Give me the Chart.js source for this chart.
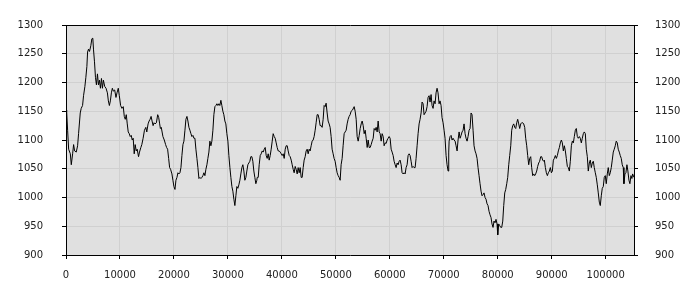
<!DOCTYPE html>
<html>
<head>
<meta charset="utf-8">
<script src="https://cdn.jsdelivr.net/npm/chart.js@4.4.1/dist/chart.umd.min.js"></script>
<style>
  html, body { margin: 0; padding: 0; background: #fff; }
  canvas { display: block; }
</style>
</head>
<body>
<canvas id="chart" width="700" height="300"></canvas>
<script>
// tick values for both axes
var xTicks = [0, 10000, 20000, 30000, 40000, 50000, 60000, 70000, 80000, 90000, 100000];
var yTicks = [900, 950, 1000, 1050, 1100, 1150, 1200, 1250, 1300];

// series, [x, value], in pieces
var seg1 = [[0,1152],[120,1150],[300,1117],[490,1084],[800,1076],[980,1057],[1230,1076],[1410,1092],[1600,1081],[1900,1079],
  [2150,1090],[2330,1111],[2640,1147],[2820,1155],[3070,1160],[3250,1177],[3500,1193],[3680,1209],[3870,1228],[4000,1253],
  [4170,1258],[4360,1254],[4600,1264],[4790,1276],[4970,1277],[5090,1258],[5280,1236],[5460,1209],[5640,1196],[5830,1215],
  [6010,1196],[6200,1204],[6380,1190],[6570,1207],[6750,1190],[6930,1204],[7180,1193],[7420,1190],[7670,1182],[7850,1168],
  [8040,1160],[8220,1168],[8410,1182],[8590,1190],[8770,1185],[9020,1187],[9260,1174],[9450,1182],[9690,1190],[9880,1177],
  [10120,1160],[10370,1155],[10610,1158],[10800,1141],[10980,1136],[11170,1144],[11350,1128],[11530,1114],[11720,1111],[11900,1106],
  [12090,1108],[12270,1100],[12450,1103],[12640,1076],[12820,1092],[13010,1081],[13190,1084],[13440,1071],[13620,1079],[13870,1087],
  [14050,1092],[14290,1103],[14540,1117],[14790,1122],[14970,1114],[15210,1128],[15400,1133],[15580,1136],[15770,1141],[15950,1133],
  [16140,1125],[16320,1130],[16500,1128],[16750,1130],[16990,1144],[17180,1139],[17360,1128],[17490,1120]];

var seg2 = [[17650,1122],[17960,1106],[18210,1100],[18460,1092],[18640,1087],[18830,1084],[19020,1068],[19200,1052],[19380,1049],[19630,1041],
  [19810,1030],[20000,1019],[20190,1014],[20370,1030],[20560,1035],[20740,1043],[20930,1041],[21110,1043],[21300,1052],[21480,1073],
  [21670,1092],[21850,1098],[22040,1117],[22220,1136],[22410,1141],[22590,1133],[22780,1122],[22960,1117],[23150,1111],[23330,1106],
  [23520,1108],[23700,1103],[23890,1103],[24070,1084],[24260,1068],[24440,1052],[24630,1033],[24810,1035],[25000,1033],[25180,1035],
  [25370,1038],[25550,1043],[25740,1038],[25920,1049],[26110,1057],[26290,1068],[26480,1079],[26660,1098],[26850,1090],[27030,1098],
  [27220,1117],[27400,1144],[27590,1158],[27770,1160],[27960,1163],[28140,1160],[28330,1163],[28510,1160],[28700,1169],[28880,1160],
  [29070,1150],[29250,1144],[29440,1133],[29620,1128],[29810,1111],[30000,1098],[30180,1073],[30370,1052],[30550,1035],[30740,1019],
  [30920,1011],[31110,997],[31290,986],[31480,1003],[31660,1019],[31850,1016],[32030,1022],[32220,1030],[32400,1041],[32590,1052],
  [32770,1057],[32960,1046],[33140,1030],[33330,1035],[33510,1046],[33700,1057],[33880,1060],[34070,1063],[34250,1071],[34440,1071],
  [34620,1063],[34810,1046],[34990,1035],[35180,1024],[35360,1030]];

var seg3 = [[35430,1035],[35620,1035],[35800,1057],[35990,1073],[36170,1076],[36360,1081],[36540,1079],[36730,1084],[36910,1087],[37100,1073],
  [37280,1068],[37470,1076],[37650,1065],[37840,1073],[38020,1084],[38210,1098],[38390,1111],[38580,1106],[38760,1103],[38950,1095],
  [39130,1087],[39320,1081],[39500,1081],[39690,1079],[39880,1076],[40060,1073],[40250,1076],[40430,1068],[40620,1084],[40800,1090],
  [40990,1090],[41170,1081],[41360,1073],[41540,1071],[41730,1065],[41910,1057],[42100,1049],[42280,1043],[42470,1054],[42650,1049],
  [42840,1041],[43020,1052],[43210,1043],[43390,1052],[43580,1035],[43760,1035],[43950,1052],[44130,1065],[44320,1071],[44500,1081],
  [44690,1084],[44870,1076],[45060,1084],[45240,1081],[45430,1090],[45610,1098],[45800,1100],[45980,1106],[46170,1117],[46350,1130],
  [46540,1144],[46720,1144],[46910,1136],[47090,1125],[47280,1125],[47460,1122],[47650,1136],[47830,1160],[48020,1158],[48200,1164],
  [48390,1147],[48570,1133],[48760,1128],[48940,1122],[49130,1106],[49310,1084],[49500,1076],[49680,1068],[49870,1063],[50060,1052],
  [50240,1043],[50430,1038],[50610,1035],[50800,1030],[50980,1057],[51170,1068],[51350,1090],[51540,1111],[51720,1114],[51910,1117],
  [52090,1128],[52280,1136],[52460,1141],[52650,1144],[52830,1150],[53080,1152]];

var seg4 = [[53400,1158],[53580,1150],[53770,1136],[53950,1106],[54140,1098],[54330,1108],[54510,1120],[54700,1128],[54880,1133],[55070,1125],
  [55250,1111],[55440,1117],[55620,1103],[55810,1087],[55990,1100],[56180,1087],[56360,1087],[56550,1092],[56730,1098],[56920,1103],
  [57100,1120],[57290,1117],[57470,1122],[57660,1114],[57840,1133],[58030,1114],[58210,1111],[58400,1098],[58580,1111],[58770,1106],
  [58950,1090],[59140,1095],[59320,1094],[59510,1100],[59690,1103],[59880,1106],[60060,1103],[60250,1084],[60430,1079],[60620,1073],
  [60800,1063],[60990,1057],[61170,1052],[61360,1060],[61540,1057],[61730,1063],[61910,1065],[62100,1057],[62280,1043],[62470,1041],
  [62650,1043],[62840,1041],[63020,1052],[63210,1057],[63390,1073],[63580,1076],[63760,1073],[63950,1063],[64130,1052],[64320,1054],
  [64500,1052],[64690,1052],[64870,1068],[65060,1090],[65240,1111],[65430,1128],[65610,1136],[65800,1147],[65980,1166],[66170,1163],
  [66350,1144],[66540,1147],[66720,1150],[66910,1158],[67090,1174],[67280,1177],[67460,1166],[67650,1179],[67830,1160],[68020,1155],
  [68200,1168],[68390,1163],[68570,1182],[68760,1190],[68940,1182],[69130,1163],[69310,1168],[69500,1160],[69680,1139],[69870,1130],
  [70060,1117],[70240,1103],[70430,1073],[70610,1057],[70800,1046],[70920,1079]];

var seg5 = [[70990,1098],[71170,1106],[71360,1108],[71540,1100],[71730,1103],[71910,1100],[72100,1098],[72280,1090],[72470,1081],[72650,1100],
  [72840,1114],[73020,1103],[73210,1108],[73390,1114],[73580,1117],[73760,1128],[73950,1111],[74130,1103],[74320,1098],[74500,1106],
  [74690,1117],[74870,1120],[75060,1147],[75240,1144],[75430,1117],[75610,1090],[75800,1081],[75980,1076],[76170,1068],[76350,1052],
  [76540,1038],[76720,1024],[76910,1011],[77090,1003],[77280,1005],[77460,1008],[77650,1000],[77830,997],[78020,989],[78200,986],
  [78390,976],[78570,970],[78760,965],[78940,954],[79130,948],[79310,959],[79500,956],[79680,962],[79870,954],[80000,935],
  [80180,954],[80370,951],[80560,948],[80740,948],[80930,959],[81110,986],[81300,1008],[81480,1014],[81670,1024],[81850,1035],
  [82040,1057],[82220,1073],[82410,1090],[82590,1117],[82780,1125],[82960,1128],[83150,1122],[83330,1120],[83520,1130],[83700,1136],
  [83890,1128],[84070,1120],[84260,1128],[84440,1130],[84630,1130],[84810,1128],[85000,1122],[85180,1103],[85370,1090],[85550,1073],
  [85740,1057],[85920,1068],[86110,1071],[86290,1052],[86480,1038],[86660,1041],[86850,1038],[87030,1041],[87220,1046],[87400,1054],
  [87590,1060],[87770,1063],[87960,1071],[88140,1071],[88330,1065],[88510,1063]];

var seg6 = [[88640,1065],[88830,1052],[89010,1043],[89200,1038],[89380,1043],[89570,1046],[89750,1052],[89940,1043],[90120,1046],[90310,1065],
  [90490,1068],[90680,1073],[90860,1068],[91050,1073],[91230,1081],[91420,1087],[91600,1095],[91790,1100],[91970,1095],[92160,1081],
  [92340,1090],[92530,1081],[92710,1068],[92900,1054],[93080,1052],[93270,1046],[93450,1063],[93640,1090],[93820,1098],[94010,1095],
  [94190,1106],[94380,1117],[94560,1120],[94750,1106],[94930,1103],[95120,1106],[95300,1103],[95490,1095],[95670,1103],[95860,1111],
  [96040,1114],[96230,1111],[96410,1084],[96600,1071],[96780,1046],[96970,1060],[97150,1065],[97340,1052],[97520,1060],[97710,1063],
  [97890,1052],[98080,1043],[98260,1035],[98450,1022],[98630,1008],[98820,992],[99000,986],[99190,1003],[99370,1016],[99560,1019],
  [99740,1035],[99930,1038],[100110,1024],[100300,1041],[100480,1052],[100670,1038],[100850,1043],[101040,1052],[101220,1065],[101410,1079],
  [101590,1084],[101780,1090],[101960,1098],[102150,1095],[102330,1084],[102520,1079],[102700,1073],[102890,1068],[103070,1057],[103260,1052],
  [103380,1024],[103570,1041],[103750,1043],[103940,1057],[104120,1046],[104310,1030],[104490,1024],[104680,1038],[104860,1033],[104990,1041],
  [105250,1035]];

var series = seg1.concat(seg2, seg3, seg4, seg5, seg6);

var tickFont = { family: "'DejaVu Sans', sans-serif", size: 10 };

// grey plot area and the top edge of the frame
var plotFrame = {
  id: 'plotFrame',
  beforeDraw: function (chart) {
    var a = chart.chartArea, ctx = chart.ctx;
    ctx.save();
    ctx.fillStyle = '#e0e0e0';
    ctx.fillRect(a.left, a.top, a.right - a.left, a.bottom - a.top);
    ctx.restore();
  },
  afterDraw: function (chart) {
    var a = chart.chartArea, ctx = chart.ctx;
    ctx.save();
    ctx.strokeStyle = '#000';
    ctx.lineWidth = 1;
    ctx.beginPath();
    ctx.moveTo(a.left, a.top + 0.5);
    ctx.lineTo(a.right + 1, a.top + 0.5);
    ctx.stroke();
    ctx.restore();
  }
};

function useTicks(list) {
  return function (scale) {
    scale.ticks = list.map(function (v) { return { value: v }; });
  };
}

function yAxis(side, pad, onChart) {
  return {
    type: 'linear',
    position: side,
    min: 900,
    max: 1300,
    afterBuildTicks: useTicks(yTicks),
    afterFit: function (scale) { scale.width = 66; },
    ticks: { font: tickFont, color: '#222', padding: pad, callback: function (v) { return String(v); } },
    grid: { color: '#d0d0d0', tickColor: '#000', tickLength: 4, drawOnChartArea: onChart },
    border: { color: '#000' }
  };
}

new Chart(document.getElementById('chart'), {
  type: 'line',
  data: {
    datasets: [{
      data: series.map(function (p) { return { x: p[0], y: p[1] }; }),
      borderColor: '#000',
      borderWidth: 1,
      pointRadius: 0,
      tension: 0,
      fill: false
    }]
  },
  options: {
    responsive: false,
    devicePixelRatio: 1,
    animation: false,
    events: [],
    layout: { padding: { top: 10, left: 0, right: 0, bottom: 0 } },
    plugins: { legend: { display: false }, tooltip: { enabled: false } },
    scales: {
      x: {
        type: 'linear',
        min: 0,
        max: 105250,
        afterBuildTicks: useTicks(xTicks),
        afterFit: function (scale) { scale.height = 45; },
        ticks: { font: tickFont, color: '#222', padding: 10, maxRotation: 0, autoSkip: false,
          callback: function (v) { return String(v); } },
        grid: { color: '#d0d0d0', tickColor: '#000', tickLength: 4 },
        border: { color: '#000' }
      },
      y: yAxis('left', 19, true),
      y2: yAxis('right', 17, false)
    }
  },
  plugins: [plotFrame]
});
</script>
</body>
</html>
